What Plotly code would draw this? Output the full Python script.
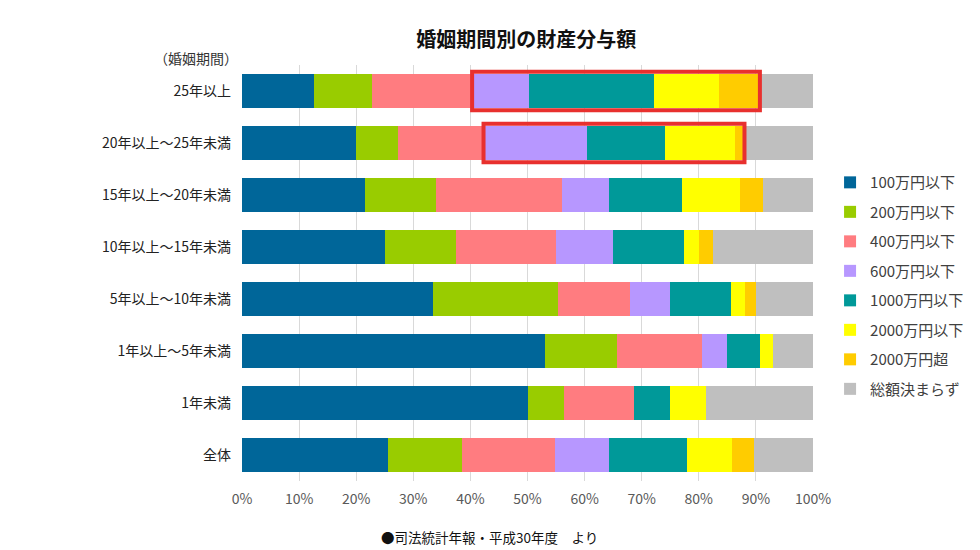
import plotly.graph_objects as go

# ─── 데이터 ────────────────────────────────────
periods = ["25年以上", "20年以上～25年未満", "15年以上～20年未満", "10年以上～15年未満",
           "5年以上～10年未満", "1年以上～5年未満", "1年未満", "全体"]

series_names = ["100万円以下", "200万円以下", "400万円以下", "600万円以下",
                "1000万円以下", "2000万円以下", "2000万円超", "総額決まらず"]

v100 = [12.6, 19.9, 21.6, 25.0, 33.4, 53.0, 50.0, 25.5]
v200 = [10.2, 7.5, 12.3, 12.5, 22.0, 12.6, 6.4, 13.0]
v400 = [17.7, 15.1, 22.2, 17.5, 12.6, 14.9, 12.3, 16.4]
v600 = [9.7, 17.9, 8.1, 10.0, 6.9, 4.4, 0.0, 9.3]
v1000 = [21.9, 13.6, 12.9, 12.4, 10.7, 5.9, 6.3, 13.7]
v2000 = [11.4, 12.3, 10.1, 2.6, 2.5, 2.2, 6.3, 7.9]
v2000over = [7.0, 1.5, 4.1, 2.4, 1.9, 0.0, 0.0, 3.8]
vundecided = [9.5, 12.2, 8.7, 17.6, 10.0, 7.0, 18.7, 10.4]

series_values = [v100, v200, v400, v600, v1000, v2000, v2000over, vundecided]

COLORS = ["#006699", "#99CC00", "#FF7C80", "#B797FF",
          "#009999", "#FFFF00", "#FFCC00", "#BFBFBF"]

FONT = "Noto Sans CJK JP"

fig = go.Figure()
for name, vals, col in zip(series_names, series_values, COLORS):
    fig.add_trace(go.Bar(
        x=vals,
        y=periods,
        orientation="h",
        name=name,
        legendgroup=name,
        marker=dict(color=col, line=dict(width=0)),
    ))

# 강조 박스 (400万円以下 다음 ~ 2000万円超 끝)
for i in [0, 1]:
    start = v100[i] + v200[i] + v400[i]
    end = start + v600[i] + v1000[i] + v2000[i] + v2000over[i]
    fig.add_shape(type="rect", xref="x", yref="y",
                  x0=start - 0.2, x1=end + 0.2, y0=i - 0.37, y1=i + 0.37,
                  line=dict(color="#E8302E", width=4), layer="above")

fig.update_layout(
    barmode="stack",
    bargap=0.35,
    width=980, height=550,
    margin=dict(l=242, r=167, t=65, b=69, autoexpand=False),
    plot_bgcolor="white",
    paper_bgcolor="white",
    font=dict(family=FONT, size=14, color="#333333"),
    title=dict(text="<b>婚姻期間別の財産分与額</b>", x=0.537, xanchor="center",
               y=0.927, yanchor="middle", font=dict(size=20, color="#111111")),
    legend=dict(xref="container", yref="container", x=0.847, xanchor="left",
                y=0.698, yanchor="top",
                traceorder="grouped", tracegroupgap=7,
                font=dict(size=15, color="#404040"), itemwidth=30),
    xaxis=dict(range=[0, 100], tickvals=[0, 10, 20, 30, 40, 50, 60, 70, 80, 90, 100],
               ticktext=[f"{t}%" for t in range(0, 101, 10)],
               showgrid=True, gridcolor="#D9D9D9", gridwidth=1,
               zeroline=False, tickfont=dict(size=14, color="#595959"),
               ticks="", ticklabelstandoff=8),
    yaxis=dict(range=[7.5, -0.5], ticks="", showgrid=False,
               tickfont=dict(size=14, color="#222222"), ticklabelstandoff=10),
    annotations=[
        dict(text="（婚姻期間）", xref="paper", yref="paper", x=-0.004, y=1.017,
             xanchor="right", yanchor="middle", showarrow=False,
             font=dict(size=14, color="#333333")),
        dict(text="●司法統計年報・平成30年度　より", xref="paper", yref="paper",
             x=0.434, y=-0.135, xanchor="center", yanchor="middle", showarrow=False,
             font=dict(size=13.5, color="#111111")),
    ],
)

fig.write_html("out.html", config={"displayModeBar": False},
               post_script="document.body.style.margin='0';")
